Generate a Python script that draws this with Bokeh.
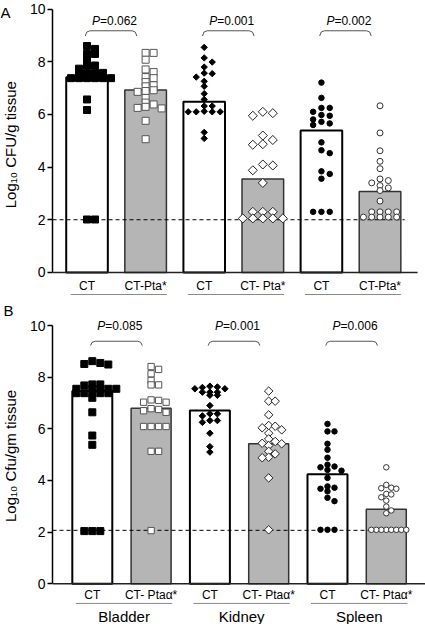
import numpy as np
from bokeh.plotting import figure
from bokeh.models import Range1d, FixedTicker
from bokeh.layouts import column, row
from bokeh.embed import file_html
from bokeh.resources import INLINE
from bokeh.core.properties import value

FONT = "Liberation Sans"

# ---------------- Panel A data ----------------
A_TICK_LABELS = ["CT", "CT-Pta*", "CT", "CT- Pta*", "CT", "CT-Pta*"]
A_BAR_VALUES = [7.41, 6.93, 6.48, 3.55, 5.39, 3.07]
A_P_VALUES = ["=0.062", "=0.001", "=0.002"]
A_LIMIT = 2.0
A_BLADDER_CT = [8.6, 8.49, 8.3, 8.3, 8.09, 7.86, 7.86, 7.74, 7.58, 7.58, 7.58, 7.58,
                7.38, 7.38, 7.38, 7.38, 7.38, 7.38, 6.57, 6.17, 2.01, 2.01]
A_BLADDER_PTA = [8.34, 8.34, 8.08, 7.71, 7.61, 7.42, 7.38, 7.23, 7.11, 7.07, 6.92,
                 6.89, 6.86, 6.63, 6.45, 6.38, 6.29, 6.25, 6.23, 5.76, 5.06]
A_KIDNEY_CT = [8.55, 8.15, 7.99, 7.8, 7.57, 7.55, 7.42, 7.26, 7.07, 6.79, 6.57,
               6.32, 6.32, 6.12, 6.1, 6.1, 6.1, 6.1, 5.32, 5.09]
A_KIDNEY_PTA = [6.1, 6.05, 5.95, 5.2, 5.03, 4.87, 4.85, 4.1, 4.06, 3.88, 3.4,
                2.3, 2.3, 2.3, 2.05, 2.05, 2.05, 2.05, 2.05]
A_SPLEEN_CT = [7.21, 6.63, 6.25, 6.25, 6.1, 5.98, 5.95, 5.81, 5.72, 5.66, 5.6,
               4.94, 4.64, 4.53, 3.84, 3.74, 3.56, 2.3, 2.3, 2.3]
A_SPLEEN_PTA = [6.33, 5.3, 4.62, 4.22, 3.94, 3.55, 3.49, 3.4, 3.3, 3.21, 3.11,
                2.71, 2.3, 2.3, 2.3, 2.3, 2.1, 2.1, 2.1, 2.1, 2.1]

# ---------------- Panel B data ----------------
B_TICK_LABELS = ["CT", "CT- Ptaα*", "CT", "CT- Ptaα*", "CT", "CT- Ptaα*"]
B_GROUP_NAMES = ["Bladder", "Kidney", "Spleen"]
B_BAR_VALUES = [7.46, 6.80, 6.71, 5.42, 4.24, 2.89]
B_P_VALUES = ["=0.085", "=0.001", "=0.006"]
B_LIMIT = 2.07
B_BLADDER_CT = [8.62, 8.55, 8.51, 8.49, 7.72, 7.72, 7.68, 7.55, 7.55, 7.55, 7.55,
                7.55, 7.38, 7.38, 7.38, 7.38, 7.38, 7.2, 6.64, 5.74, 5.38,
                2.04, 2.04, 2.04]
B_BLADDER_PTA = [8.41, 8.3, 8.13, 7.87, 7.7, 7.7, 7.12, 7.1, 7.03, 7.03, 6.78, 6.75,
                 6.7, 6.64, 6.09, 6.09, 6.09, 6.09, 5.13, 5.13, 2.06]
B_KIDNEY_CT = [7.65, 7.62, 7.6, 7.55, 7.55, 7.42, 7.42, 7.42, 7.3, 7.3, 6.9, 6.58,
               6.58, 6.5, 6.32, 6.32, 6.25, 5.83, 5.31, 5.1]
B_KIDNEY_PTA = [7.46, 7.07, 7.07, 6.54, 6.13, 6.1, 6.04, 5.96, 5.83, 5.61, 5.51,
                5.44, 5.42, 5.35, 5.13, 5.03, 4.9, 4.88, 4.1, 2.09]
B_SPLEEN_CT = [6.19, 5.9, 5.9, 5.42, 5.19, 4.88, 4.61, 4.54, 4.51, 4.41, 4.38, 4.1,
               3.77, 3.72, 3.68, 3.58, 3.33, 3.2, 2.09, 2.09, 2.09]
B_SPLEEN_PTA = [4.51, 3.83, 3.72, 3.7, 3.68, 3.48, 3.46, 3.35, 3.22, 2.99, 2.84,
                2.73, 2.09, 2.09, 2.09, 2.09, 2.09, 2.09, 2.09, 2.09]

Y_TICKS = [0, 2, 4, 6, 8, 10]

GRAY = "#b5b5b5"
R45 = np.pi / 4
STRIP_W = 24
MAIN_W = 401
MAIN_LEFT = 28


def swarm_columns(vals, ppu, vgap):
    """Deterministic dot-plot layout: column index for each point so that
    points in the same column are at least vgap pixels apart."""
    order = sorted(range(len(vals)), key=lambda i: -vals[i])
    cands = [0]
    for k in range(1, 30):
        cands += [k, -k]
    placed = {}
    out = [0] * len(vals)
    for i in order:
        py = vals[i] * ppu
        chosen = 0
        for c in cands:
            if all(abs(q - py) >= vgap for q in placed.get(c, [])):
                chosen = c
                break
        placed.setdefault(chosen, []).append(py)
        out[i] = chosen
    return out


def build(letter, ylabel, tick_labels, bar_values, point_sets, styles, pvals,
          limit, geo, group_names=None):
    yr = Range1d(geo["ylo"], geo["yhi"])
    fw = MAIN_W - MAIN_LEFT
    p = figure(width=MAIN_W, height=geo["h"], x_range=Range1d(0, geo["xhi"]),
               y_range=yr, output_backend="svg", toolbar_location=None,
               x_axis_type=None, min_border_left=MAIN_LEFT, min_border_right=0,
               min_border_top=0, min_border_bottom=0)
    p.outline_line_color = None
    p.grid.visible = False

    ppu = geo["h"] / (geo["yhi"] - geo["ylo"])
    ppx = fw / geo["xhi"]
    centers = [geo["off"] + i for i in range(len(bar_values))]

    ax = p.yaxis[0]
    ax.bounds = (0, 10)
    ax.ticker = FixedTicker(ticks=Y_TICKS)
    ax.minor_tick_line_color = None
    ax.major_tick_out = 5
    ax.major_tick_in = 0
    ax.major_label_standoff = 2
    ax.axis_line_width = 1.5
    ax.major_tick_line_width = 1.5
    ax.major_label_text_font = FONT
    ax.major_label_text_font_size = "14px"
    ax.major_label_text_color = "black"

    # bars
    p.vbar(x=centers[0::2], top=bar_values[0::2], bottom=0, width=geo["bw"],
           fill_color="white", line_color="black", line_width=2)
    p.vbar(x=centers[1::2], top=bar_values[1::2], bottom=0, width=geo["bw"],
           fill_color=GRAY, line_color="#333333", line_width=1.5)

    # baseline (x axis line)
    p.segment(x0=[0], y0=[0], x1=[geo["base_end"]], y1=[0], line_color="#222222",
              line_width=1.5)

    # detection limit
    p.segment(x0=[0], y0=[limit], x1=[centers[-1] + geo["dash_end"]], y1=[limit],
              line_color="black", line_width=1, line_dash="4 3")

    # points
    for c, vals, st in zip(centers, point_sets, styles):
        cols = swarm_columns(vals, ppu, st["vgap"])
        xs = [c + k * st["step"] / ppx for k in cols]
        p.scatter(x=xs, y=vals, marker=st["marker"], size=st["size"],
                  angle=st.get("angle", 0), fill_color=st["fill"],
                  line_color=st["line"], line_width=1)

    # brackets and P values
    bxs, bys = [], []
    for g in range(len(pvals)):
        x0 = centers[2 * g] - 0.03
        x1 = centers[2 * g + 1] - 0.15
        yt, ye = geo["br_top"], geo["br_end"]
        dy = yt - ye
        bxs.append([x0, x0 + 0.025, x0 + 0.08, x1 - 0.08, x1 - 0.025, x1])
        bys.append([ye, ye + dy * 0.75, yt, yt, ye + dy * 0.75, ye])
    p.multi_line(xs=bxs, ys=bys, line_color="#555555", line_width=1)

    mids = [(centers[2 * g] - 0.03 + centers[2 * g + 1] - 0.15) / 2 + 0.05
            for g in range(len(pvals))]
    p.text(x=mids, y=[geo["p_y"]] * len(mids), text=["P"] * len(mids),
           text_font=value(FONT), text_font_size="12px", text_font_style="italic",
           text_align="right", text_baseline="middle", x_offset=-14,
           text_color="black")
    p.text(x=mids, y=[geo["p_y"]] * len(mids), text=pvals,
           text_font=value(FONT), text_font_size="12px",
           text_align="left", text_baseline="middle", x_offset=-14,
           text_color="black")

    # category labels
    p.text(x=centers, y=[geo["lab_y"]] * len(centers), text=tick_labels,
           text_font=value(FONT), text_font_size="12px", text_align="center",
           text_baseline="middle", text_color="black")

    # group underlines
    u0 = [centers[2 * g] - 0.28 for g in range(len(pvals))]
    u1 = [centers[2 * g + 1] + 0.36 for g in range(len(pvals))]
    p.segment(x0=u0, y0=[geo["ul_y"]] * len(u0), x1=u1, y1=[geo["ul_y"]] * len(u1),
              line_color="#8a8a8a", line_width=1)

    if group_names:
        gx = [(a + b) / 2 for a, b in zip(u0, u1)]
        p.text(x=gx, y=[geo["grp_y"]] * len(gx), text=group_names,
               text_font=value(FONT), text_font_size="15px", text_align="center",
               text_baseline="middle", text_color="black")

    # left strip: panel letter and y-axis title
    s = figure(width=STRIP_W, height=geo["h"], x_range=Range1d(0, STRIP_W),
               y_range=yr, output_backend="svg", toolbar_location=None,
               x_axis_type=None, y_axis_type=None, min_border_left=0,
               min_border_right=0, min_border_top=0, min_border_bottom=0)
    s.outline_line_color = None
    s.grid.visible = False
    s.text(x=[geo["let_x"]], y=[geo["let_y"]], text=[letter],
           text_font=value(FONT), text_font_size="15px", text_align="left",
           text_baseline="middle", text_color="black")
    s.text(x=[9.5], y=[geo["title_y"]], text=[ylabel], angle=np.pi / 2,
           text_font=value(FONT), text_font_size="15px", text_align="center",
           text_baseline="middle", text_color="black")
    return row(s, p, spacing=0)


styles_a = [
    dict(marker="square", size=7, fill="black", line="black", step=8, vgap=3.5),
    dict(marker="square", size=7, fill="white", line="#555555", step=8, vgap=4),
    dict(marker="square", size=4.5, angle=R45, fill="black", line="black", step=8, vgap=4.5),
    dict(marker="square", size=6.4, angle=R45, fill="white", line="#222222", step=10, vgap=6),
    dict(marker="circle", size=5.5, fill="black", line="black", step=8.3, vgap=5),
    dict(marker="circle", size=6, fill="white", line="#333333", step=8.3, vgap=5),
]
styles_b = [
    dict(marker="square", size=7, fill="black", line="black", step=8, vgap=3.5),
    dict(marker="square", size=6.3, fill="white", line="#555555", step=7.5, vgap=4),
    dict(marker="square", size=4.6, angle=R45, fill="black", line="black", step=7.5, vgap=3),
    dict(marker="square", size=6, angle=R45, fill="white", line="#222222", step=6.5, vgap=5),
    dict(marker="circle", size=5.5, fill="black", line="black", step=7, vgap=4.5),
    dict(marker="circle", size=5.5, fill="white", line="#333333", step=5, vgap=4.5),
]

geo_a = dict(h=300, ylo=-1.068, yhi=10.33, xhi=6.365, off=0.589, bw=0.71,
             base_end=6.23, dash_end=0.42,
             p_y=9.56, br_top=9.18, br_end=8.98, lab_y=-0.53, ul_y=-0.84,
             let_x=0, let_y=9.874, title_y=4.93)
geo_b = dict(h=324, ylo=-1.576, yhi=10.968, xhi=6.344, off=0.677, bw=0.68,
             base_end=6.344, dash_end=0.31,
             p_y=10.0, br_top=9.39, br_end=9.22, lab_y=-0.45, ul_y=-0.76,
             grp_y=-1.26, let_x=3, let_y=10.6, title_y=4.95)

pa = build("A", "Log₁₀  CFU/g tissue", A_TICK_LABELS, A_BAR_VALUES,
           [A_BLADDER_CT, A_BLADDER_PTA, A_KIDNEY_CT, A_KIDNEY_PTA,
            A_SPLEEN_CT, A_SPLEEN_PTA], styles_a, A_P_VALUES, A_LIMIT, geo_a)
pb = build("B", "Log₁₀ Cfu/gm tissue", B_TICK_LABELS, B_BAR_VALUES,
           [B_BLADDER_CT, B_BLADDER_PTA, B_KIDNEY_CT, B_KIDNEY_PTA,
            B_SPLEEN_CT, B_SPLEEN_PTA], styles_b, B_P_VALUES, B_LIMIT, geo_b,
           group_names=B_GROUP_NAMES)

layout = column(pa, pb, spacing=0)
open("out.html", "w").write(file_html(layout, INLINE))
